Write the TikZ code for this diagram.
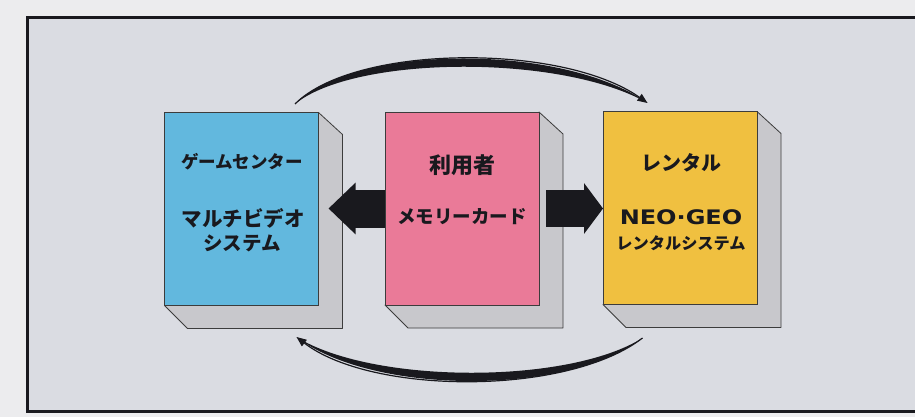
\documentclass[tikz,border=0pt]{standalone}
\usepackage{fontspec}
\newfontfamily\jp{Noto Sans CJK JP}
\newfontfamily\dv{DejaVu Sans}
\usetikzlibrary{calc,arrows.meta}
\definecolor{outerbg}{RGB}{236,236,238}
\definecolor{innerbg}{RGB}{218,220,226}
\definecolor{boxblue}{RGB}{98,184,222}
\definecolor{boxpink}{RGB}{234,122,152}
\definecolor{boxyellow}{RGB}{240,192,64}
\definecolor{sidegrey}{RGB}{200,200,204}
\definecolor{edgec}{RGB}{60,60,60}
\definecolor{ink}{RGB}{25,25,30}
\begin{document}
\begin{tikzpicture}[x=1pt,y=-1pt,
  frontface/.style={draw=edgec,line width=0.9pt,minimum width=154pt,minimum height=193pt,inner sep=0pt,outer sep=0pt},
  sideface/.style={fill=sidegrey,draw=edgec,line width=0.8pt,line join=round},
  lbl/.style={text=ink,inner sep=0pt},
  blk/.style={draw=ink,line width=#1},
  crescent/.style={fill=ink,draw=none},
  thinarc/.style={draw=ink,line width=1.2pt},
]
\useasboundingbox (0,0) rectangle (915,417);
\fill[outerbg] (0,0) rectangle (915,417);
\fill[innerbg] (27,18) rectangle (915,411);
\begin{scope}
\clip (0,0) rectangle (915,417);
\draw[ink,line width=3pt] (27,18) rectangle (940,411);
\end{scope}

% front faces (named nodes)
\path (241.5,209) node[frontface,fill=boxblue] (b1) {};
\path (462,208.5) node[frontface,fill=boxpink] (b2) {};
\path (680,208) node[frontface,fill=boxyellow] (b3) {};

% side/bottom faces
\foreach \b in {b1,b2,b3}{
  \draw[sideface] (\b.north east) -- ++(24,22) -- ($(\b.south east)+(24,23)$)
     -- ($(\b.south west)+(23,23)$) -- (\b.south west) -- (\b.south east) -- cycle;
}
% redraw front faces on top
\node[frontface,fill=boxblue] at (b1.center) {};
\node[frontface,fill=boxpink] at (b2.center) {};
\node[frontface,fill=boxyellow] at (b3.center) {};

% labels
\node[lbl,font={\jp\bfseries\fontsize{17.5}{20}\selectfont}] (t1a) at (242,162) {ゲームセンター};
\node[lbl,font={\jp\bfseries\fontsize{20.5}{24}\selectfont}] (t1b) at (243,218) {マルチビデオ};
\node[lbl,font={\jp\bfseries\fontsize{19.5}{24}\selectfont}] (t1c) at (242,243) {システム};

\node[lbl,font={\jp\bfseries\fontsize{22}{24}\selectfont}] (t2a) at (462,165) {利用者};
\node[lbl,font={\jp\bfseries\fontsize{18.5}{24}\selectfont}] (t2b) at (462,217) {メモリーカード};

\node[lbl,font={\jp\bfseries\fontsize{20}{24}\selectfont}] (t3a) at (681,163) {レンタル};
\node[lbl,font={\dv\bfseries\fontsize{20}{24}\selectfont}] (t3b) at (681,217) {\scalebox{1.2}[1]{NEO·GEO}};
\node[lbl,font={\jp\bfseries\fontsize{16.2}{20}\selectfont}] (t3c) at (681,243) {レンタルシステム};

% block arrows
\draw[blk=38pt,-{Triangle[length=27pt,width=50pt]}] (b2.west) -- ($(b1.east |- b2.west)+(10,0)$);
\draw[blk=37pt,-{Triangle[length=19pt,width=50pt]}] ($(b2.east)+(7,0)$) -- (b3.west |- b2.east);

% curved arrows
\coordinate (s1) at ($(b1.north east)+(-23.5,-8.5)$);
\coordinate (e1) at ($(b3.north west)+(44.5,-8.5)$);
\coordinate (s2) at ($(b3.south west)+(39.5,33.5)$);
\coordinate (e2) at ($(b1.south east)+(-22,31.5)$);

\fill[crescent] (s1) .. controls +(60,-60) and +(-85,-60) .. (e1)
   .. controls +(-85,-49) and +(60,-49) .. (s1) -- cycle;
\draw[thinarc,-{Triangle[length=10pt,width=8pt]}] (s1) .. controls +(60,-60) and +(-85,-60) .. (e1);

\fill[crescent] (s2) .. controls +(-75,58) and +(75,58) .. (e2)
   .. controls +(75,47) and +(-75,47) .. (s2) -- cycle;
\draw[thinarc,-{Triangle[length=10pt,width=8pt]}] (s2) .. controls +(-75,58) and +(75,58) .. (e2);
\end{tikzpicture}
\end{document}
